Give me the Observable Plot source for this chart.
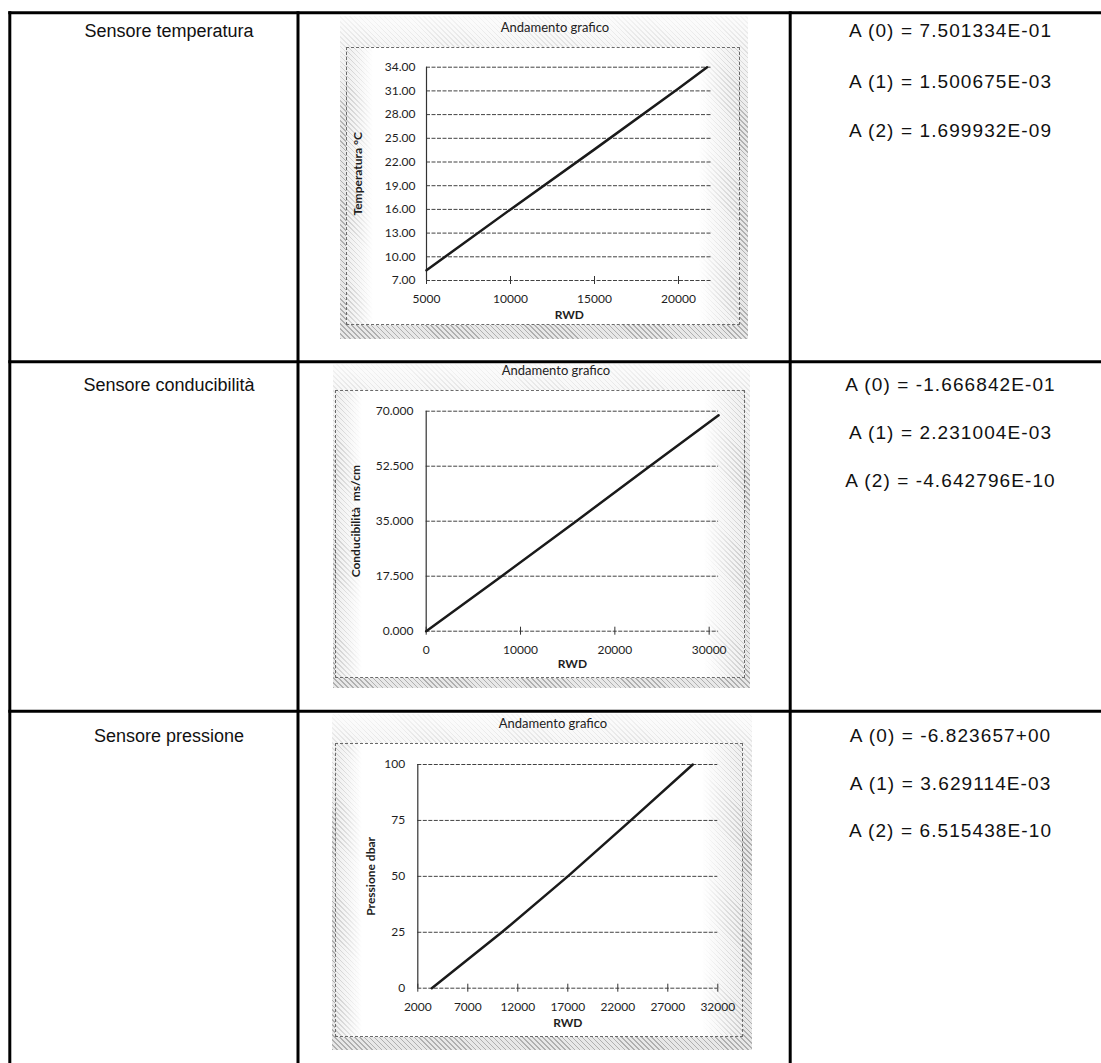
<!DOCTYPE html>
<html>
<head>
<meta charset="utf-8">
<script src="https://cdn.jsdelivr.net/npm/d3@7"></script>
<script src="https://cdn.jsdelivr.net/npm/@observablehq/plot@0.6"></script>
<style>
  html, body { margin: 0; padding: 0; background: #fff; }
  body { width: 1101px; height: 1063px; overflow: hidden; position: relative; }
  .box { position: absolute;
    background: repeating-linear-gradient(45deg, #b0b0b0 0 1px, #e8e8e8 1px 3.5px);
    -webkit-mask-image: linear-gradient(to bottom, rgba(0,0,0,0.12) 0%, rgba(0,0,0,1) 35%);
    mask-image: linear-gradient(to bottom, rgba(0,0,0,0.12) 0%, rgba(0,0,0,1) 35%); }
  .frame { position: absolute; box-sizing: border-box; border: 1px dashed #6a6a6a;
    background:
      linear-gradient(to right, rgba(255,255,255,0.35) 0px, #fff 26px, #fff calc(100% - 40px), rgba(255,255,255,0.35) 100%),
      repeating-linear-gradient(45deg, #b0b0b0 0 1px, #e8e8e8 1px 3.5px); }
  .ctitle { position: absolute; font-family: Lato, "Open Sans", sans-serif; font-size: 13px; color: #222;
    transform: translate(-50%, -50%); white-space: nowrap; }
  .plotwrap { position: absolute; }
</style>
</head>
<body>
<div id="root"></div>
<script>
// ---------------- DATA ----------------
const sensorNames = ["Sensore temperatura", "Sensore conducibilità", "Sensore pressione"];
const coefficientTemp = ["A (0) = 7.501334E-01", "A (1) = 1.500675E-03", "A (2) = 1.699932E-09"];
const coefficientCond = ["A (0) = -1.666842E-01", "A (1) = 2.231004E-03", "A (2) = -4.642796E-10"];
const coefficientPres = ["A (0) = -6.823657+00", "A (1) = 3.629114E-03", "A (2) = 6.515438E-10"];
const chartTitle = "Andamento grafico";
const xAxisLabel = "RWD";
const yAxisLabels = ["Temperatura °C", "Conducibilità\u00a0 ms/cm", "Pressione dbar"];

// Temperature sensor
const tempRwd = [5000, 10000, 15000, 20000, 21700];
const tempValues = [8.3, 16.0, 23.6, 31.3, 34.0];
const tempXTicks = [5000, 10000, 15000, 20000];
const tempYTicks = [7, 10, 13, 16, 19, 22, 25, 28, 31, 34];
const tempXDomain = [5000, 22000];
const tempYDomain = [7, 34];

// Conductivity sensor
const condRwd = [0, 8000, 15900, 23700, 31000];
const condValues = [0, 17.5, 35, 52.5, 68.7];
const condXTicks = [0, 10000, 20000, 30000];
const condYTicks = [0, 17.5, 35, 52.5, 70];
const condXDomain = [0, 31000];
const condYDomain = [0, 70];

// Pressure sensor
const presRwd = [3400, 10400, 17000, 23300, 29500];
const presValues = [0, 25, 50, 75, 100];
const presXTicks = [2000, 7000, 12000, 17000, 22000, 27000, 32000];
const presYTicks = [0, 25, 50, 75, 100];
const presXDomain = [2000, 32000];
const presYDomain = [0, 100];

// ---------------- LAYOUT ----------------
const W = 1101, H = 1063;
const hLines = [12.8, 361.8, 711.2];
const vLines = [9.8, 298, 790.2];
const lineW = 3;
const col1Center = 169, col3Center = 950.5;
const rowBaselines = [[37, 88, 137], [391, 439, 487], [742, 789.5, 837]];

const page = d3.select("#root").append("svg")
  .attr("width", W).attr("height", H)
  .style("position", "absolute").style("left", 0).style("top", 0);

hLines.forEach(y => page.append("line")
  .attr("x1", vLines[0] - lineW / 2).attr("x2", W).attr("y1", y).attr("y2", y)
  .attr("stroke", "#000").attr("stroke-width", lineW));
vLines.forEach(x => page.append("line")
  .attr("x1", x).attr("x2", x).attr("y1", hLines[0] - lineW / 2).attr("y2", H)
  .attr("stroke", "#000").attr("stroke-width", lineW));

const coefRows = [coefficientTemp, coefficientCond, coefficientPres];
const textStyle = (t, size, ls) => t.attr("font-family", "'Liberation Sans', Arial, sans-serif")
  .attr("font-size", size).attr("letter-spacing", ls).attr("fill", "#111").attr("text-anchor", "middle");

sensorNames.forEach((name, i) => {
  page.append("text").call(textStyle, 18, 0).attr("x", col1Center).attr("y", rowBaselines[i][0]).text(name);
  coefRows[i].forEach((c, j) => {
    page.append("text").call(textStyle, 19, 1.1).attr("x", col3Center).attr("y", rowBaselines[i][j]).text(c);
  });
});

// ---------------- CHARTS ----------------
const charts = [
  {x: tempRwd, y: tempValues, xTicks: tempXTicks, yTicks: tempYTicks, xDomain: tempXDomain, yDomain: tempYDomain,
   yFormat: d3.format(".2f"), yLabel: yAxisLabels[0]},
  {x: condRwd, y: condValues, xTicks: condXTicks, yTicks: condYTicks, xDomain: condXDomain, yDomain: condYDomain,
   yFormat: d3.format(".3f"), yLabel: yAxisLabels[1]},
  {x: presRwd, y: presValues, xTicks: presXTicks, yTicks: presYTicks, xDomain: presXDomain, yDomain: presYDomain,
   yFormat: d3.format("d"), yLabel: yAxisLabels[2]}
];

const layouts = [
  {box: {x: 340, y: 16, w: 408, h: 323}, frame: {x: 346, y: 47, w: 394, h: 278}, title: {x: 555, y: 27},
   m: {l: 80, r: 28.4, t: 19.7, b: 45}, yPad: 11, yLabelX: 12, xLabelDy: 38},
  {box: {x: 333, y: 364, w: 417, h: 324}, frame: {x: 335, y: 390, w: 410, h: 288}, title: {x: 556, y: 370},
   m: {l: 90.7, r: 26.9, t: 20.7, b: 47.3}, yPad: 12.7, yLabelX: 21, xLabelDy: 37},
  {box: {x: 332, y: 714, w: 420, h: 336}, frame: {x: 335, y: 743, w: 408, h: 294}, title: {x: 553, y: 723},
   m: {l: 82.3, r: 25.7, t: 21, b: 49.3}, yPad: 12.6, yLabelX: 36, xLabelDy: 39}
];

const body = d3.select("body");
charts.forEach((c, i) => {
  const L = layouts[i];
  body.append("div").attr("class", "box")
    .style("left", L.box.x + "px").style("top", L.box.y + "px")
    .style("width", L.box.w + "px").style("height", L.box.h + "px");
  body.append("div").attr("class", "frame")
    .style("left", L.frame.x + "px").style("top", L.frame.y + "px")
    .style("width", L.frame.w + "px").style("height", L.frame.h + "px");
  body.append("div").attr("class", "ctitle")
    .style("left", L.title.x + "px").style("top", L.title.y + "px").text(chartTitle);

  const pts = c.x.map((xv, k) => ({rwd: xv, v: c.y[k]}));
  const xMin = c.xDomain[0];

  const plot = Plot.plot({
    width: L.frame.w,
    height: L.frame.h,
    marginLeft: L.m.l, marginRight: L.m.r, marginTop: L.m.t, marginBottom: L.m.b,
    style: {fontFamily: "Lato, 'Open Sans', sans-serif", fontSize: "12px", color: "#1e1e1e", background: "transparent", overflow: "visible"},
    x: {domain: c.xDomain, nice: false},
    y: {domain: c.yDomain, nice: false},
    marks: [
      Plot.ruleY(c.yTicks, {stroke: "#2e2e2e", strokeWidth: 1, strokeDasharray: "4,1.5", strokeOpacity: 0.9}),
      Plot.ruleX([xMin], {stroke: "#333", strokeWidth: 1.2}),
      Plot.axisX({ticks: c.xTicks, tickSize: 8, dy: -4, tickFormat: () => "", stroke: "#333", label: null}),
      Plot.axisX({ticks: c.xTicks, tickSize: 0, tickPadding: 14, tickFormat: d3.format("d"), label: null, fill: "#1e1e1e"}),
      Plot.axisY({ticks: c.yTicks, tickSize: 0, tickPadding: L.yPad, tickFormat: c.yFormat, label: null, fill: "#1e1e1e"}),
      Plot.line(pts, {x: "rwd", y: "v", stroke: "#1a1a1a", strokeWidth: 2.5}),
      Plot.text([c.yLabel], {frameAnchor: "left", textAnchor: "middle", dx: L.yLabelX - L.m.l, rotate: -90, fontWeight: "bold", fontSize: 12, fill: "#1e1e1e"}),
      Plot.text([xAxisLabel], {frameAnchor: "bottom", dy: L.xLabelDy, fontWeight: "bold", fontSize: 12, fill: "#1e1e1e"})
    ]
  });
  const wrap = body.append("div").attr("class", "plotwrap")
    .style("left", L.frame.x + "px").style("top", L.frame.y + "px");
  wrap.node().appendChild(plot);
});
</script>
</body>
</html>
